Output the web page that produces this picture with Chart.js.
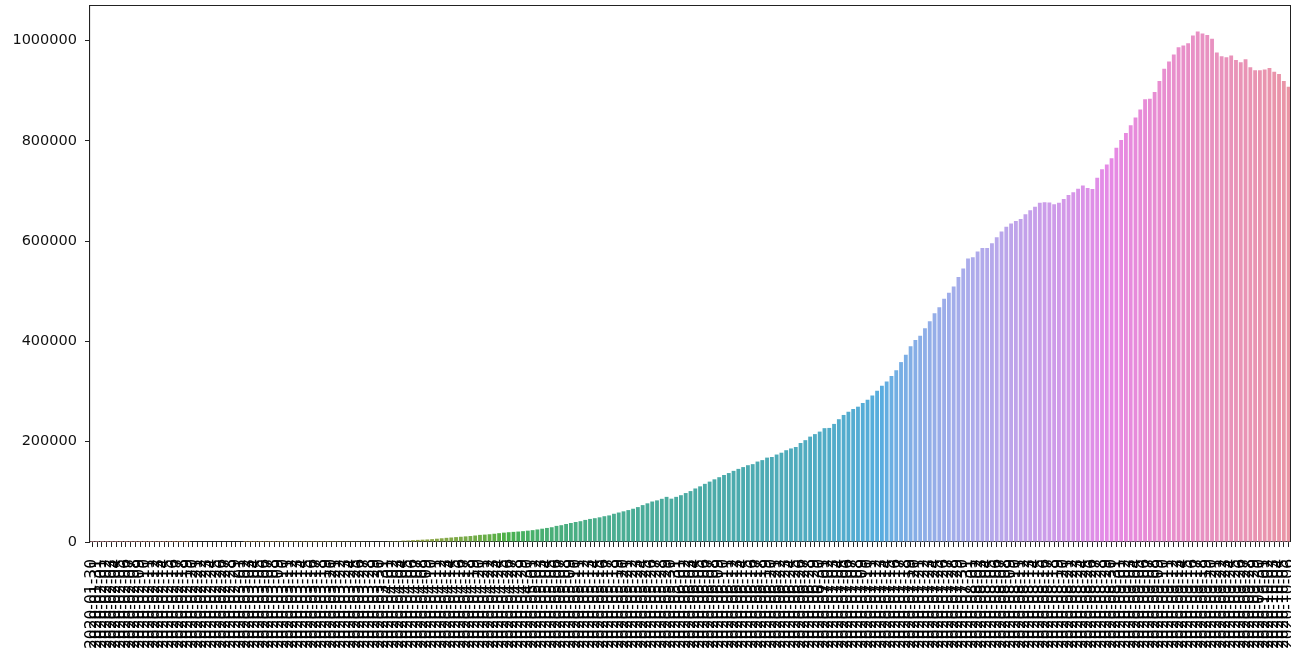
<!DOCTYPE html>
<html>
<head>
<meta charset="utf-8">
<script src="https://cdn.jsdelivr.net/npm/chart.js@4"></script>
<style>
  html, body { margin: 0; padding: 0; background: #fff; overflow: hidden; }
  canvas { display: block; }
</style>
</head>
<body>
<canvas id="active-bar" width="1291" height="649"></canvas>
<script>
// active cases per day, 2020-01-30 .. 2020-10-06
const startDate = '2020-01-30'
const dayCount = 251

const valuesJan = [1, 1]
const valuesFeb = [1, 2, 3, 3, 3, 3, 3, 3, 3, 3, 3, 3, 3, 3, 3, 3, 3, 3, 3, 0, 0, 0, 0, 0, 0, 0, 0, 0, 0]
const valuesMar = [0, 2, 3, 25, 27, 28, 31, 36, 40, 53, 58, 66, 72, 83, 97, 104, 119, 137, 157, 196, 256, 324, 411, 467, 536, 606, 727, 826, 914, 1117, 1238]
const valuesApr = [1637, 1860, 2066, 2784, 3030, 3666, 4195, 4643, 5095, 5709, 6565, 7409, 8312, 8988, 9756, 10477, 11201, 11906, 12974, 14175, 14759, 15474, 16454, 17610, 18668, 19519, 20177, 20835, 21632, 22629]
const valuesMay = [23651, 25007, 26535, 28046, 29453, 32138, 33514, 35902, 37916, 39834, 41472, 44029, 46008, 47480, 49219, 51401, 53035, 56316, 58802, 61149, 63624, 66330, 69597, 73560, 77103, 80722, 83004, 86110, 89987, 86422, 89995]
const valuesJun = [93322, 97581, 101497, 106737, 110960, 115942, 120406, 124981, 129215, 133632, 137448, 141842, 145779, 149348, 153106, 155227, 160384, 163248, 168269, 169451, 174387, 178014, 183022, 186514, 189463, 197387, 203051, 210120, 215125, 220114]
const valuesJul = [226947, 227439, 235433, 244814, 253287, 259557, 264944, 269789, 276882, 283407, 292258, 301609, 311565, 319840, 331146, 342473, 358692, 373379, 390459, 402529, 411133, 426167, 440135, 456071, 467882, 485114, 496988, 509447, 528242, 545318, 565103]
const valuesAug = [567730, 579357, 586244, 586298, 595501, 607384, 619088, 628747, 634945, 639929, 643948, 653622, 661595, 668220, 676514, 677444, 676900, 673166, 676514, 684000, 692028, 697330, 704348, 710771, 706000, 704000, 725991, 743000, 752424, 765302, 785996]
const valuesSep = [801282, 815538, 831124, 846395, 862320, 882542, 883697, 897394, 919018, 943480, 958000, 972000, 986598, 990061, 994500, 1009976, 1017754, 1013964, 1010824, 1003299, 975861, 968377, 966382, 970116, 960969, 956402, 962640, 946636, 940441, 940705]
const valuesOct = [942217, 944996, 937625, 933000, 919023, 907883]

const yTickValues = [0, 200000, 400000, 600000, 800000, 1000000]

const activeCases = [].concat(valuesJan, valuesFeb, valuesMar, valuesApr, valuesMay, valuesJun, valuesJul, valuesAug, valuesSep, valuesOct)

// date labels, one per day
const labels = []
const d0 = new Date(startDate + 'T00:00:00Z')
for (let i = 0; i < dayCount; i++) {
  const d = new Date(d0.getTime() + i * 86400000)
  labels.push(d.toISOString().slice(0, 10))
}

// seaborn default palette for many categories: husl, then desaturated to .75
const M = [[3.2406, -1.5372, -0.4986], [-0.9689, 1.8758, 0.0415], [0.0557, -0.2040, 1.0570]]
const refU = 0.19784, refV = 0.46834, kappa = 903.2963, epsilon = 0.0088564

function getBounds(L) {
  const sub1 = Math.pow(L + 16, 3) / 1560896
  const sub2 = sub1 > epsilon ? sub1 : L / kappa
  const ret = []
  for (const [m1, m2, m3] of M) {
    for (const t of [0, 1]) {
      const top1 = (284517 * m1 - 94839 * m3) * sub2
      const top2 = (838422 * m3 + 769860 * m2 + 731718 * m1) * L * sub2 - 769860 * t * L
      const bottom = (632260 * m3 - 126452 * m2) * sub2 + 126452 * t
      ret.push([top1 / bottom, top2 / bottom])
    }
  }
  return ret
}
function maxChroma(L, H) {
  const hrad = H / 180 * Math.PI
  let res = Infinity
  for (const [m1, b1] of getBounds(L)) {
    const len = b1 / (Math.sin(hrad) - m1 * Math.cos(hrad))
    if (len > 0) res = Math.min(res, len)
  }
  return res
}
function fromLinear(c) { return c <= 0.0031308 ? 12.92 * c : 1.055 * Math.pow(c, 1 / 2.4) - 0.055 }
function huslToRgb(H, S, L) {
  const C = maxChroma(L, H) / 100 * S
  const hrad = H / 180 * Math.PI
  const U = Math.cos(hrad) * C, V = Math.sin(hrad) * C
  const Y = L > 8 ? Math.pow((L + 16) / 116, 3) : L / kappa
  const varU = U / (13 * L) + refU
  const varV = V / (13 * L) + refV
  const X = 0 - (9 * Y * varU) / ((varU - 4) * varV - varU * varV)
  const Z = (9 * Y - 15 * varV * Y - varV * X) / (3 * varV)
  return M.map(r => Math.min(1, Math.max(0, fromLinear(r[0] * X + r[1] * Y + r[2] * Z))))
}
function rgbToHls(r, g, b) {
  const mx = Math.max(r, g, b), mn = Math.min(r, g, b)
  const l = (mx + mn) / 2
  if (mx === mn) return [0, l, 0]
  const d = mx - mn
  const s = l <= 0.5 ? d / (mx + mn) : d / (2 - mx - mn)
  const rc = (mx - r) / d, gc = (mx - g) / d, bc = (mx - b) / d
  let h
  if (r === mx) h = bc - gc
  else if (g === mx) h = 2 + rc - bc
  else h = 4 + gc - rc
  h = ((h / 6) % 1 + 1) % 1
  return [h, l, s]
}
function hv(m1, m2, h) {
  h = ((h % 1) + 1) % 1
  if (h < 1 / 6) return m1 + (m2 - m1) * h * 6
  if (h < 0.5) return m2
  if (h < 2 / 3) return m1 + (m2 - m1) * (2 / 3 - h) * 6
  return m1
}
function hlsToRgb(h, l, s) {
  if (s === 0) return [l, l, l]
  const m2 = l <= 0.5 ? l * (1 + s) : l + s - l * s
  const m1 = 2 * l - m2
  return [hv(m1, m2, h + 1 / 3), hv(m1, m2, h), hv(m1, m2, h - 1 / 3)]
}
const colors = labels.map((_, i) => {
  const hue = ((i / labels.length + 0.01) % 1) * 359
  const [r, g, b] = huslToRgb(hue, 0.9 * 99, 0.7 * 99)
  const [h, l, s] = rgbToHls(r, g, b)
  const [r2, g2, b2] = hlsToRgb(h, l, s * 0.75)
  return 'rgb(' + Math.round(r2 * 255) + ',' + Math.round(g2 * 255) + ',' + Math.round(b2 * 255) + ')'
})

Chart.defaults.font.family = 'DejaVu Sans, sans-serif'
Chart.defaults.font.size = 14.5
Chart.defaults.color = '#111'

// box round the plot, like the matplotlib spines
const frame = {
  id: 'frame',
  afterDraw(chart) {
    const a = chart.chartArea, ctx = chart.ctx
    ctx.save()
    ctx.fillStyle = '#222'
    ctx.fillRect(a.left - 1, a.top - 1, a.right - a.left + 1, 1)
    ctx.fillRect(a.right - 1, a.top - 1, 1, a.bottom - a.top + 1)
    ctx.restore()
  }
}

const ctxBAR = document.getElementById('active-bar')
const chart = new Chart(ctxBAR, {
  type: 'bar',
  data: {
    labels: labels,
    datasets: [{
      data: activeCases,
      backgroundColor: colors,
      borderWidth: 0,
      barPercentage: 0.8,
      categoryPercentage: 1.0
    }]
  },
  options: {
    responsive: false,
    animation: false,
    devicePixelRatio: 1,
    layout: { padding: { left: 0, right: 0, top: 6, bottom: 0 } },
    plugins: { legend: { display: false }, tooltip: { enabled: false } },
    scales: {
      x: {
        offset: true,
        grid: { display: true, drawOnChartArea: false, drawTicks: true, tickLength: 5, color: '#222', lineWidth: 1, offset: false },
        border: { display: true, color: '#222', width: 1.1 },
        ticks: { autoSkip: false, maxRotation: 90, minRotation: 90, padding: 12, color: '#000', font: { size: 15.5 } },
        afterFit: (s) => { s.height = 107; s.paddingLeft = 0; s.paddingRight = 0 }
      },
      y: {
        min: 0,
        max: 1068642,
        grid: { display: true, drawOnChartArea: false, drawTicks: true, tickLength: 5, color: '#222', lineWidth: 1 },
        border: { display: true, color: '#222', width: 1.1 },
        ticks: { padding: 8, callback: (v) => String(v) },
        afterBuildTicks: (s) => { s.ticks = yTickValues.map(v => ({ value: v })) },
        afterFit: (s) => { s.width = 90; s.paddingTop = 0; s.paddingBottom = 0 }
      }
    }
  },
  plugins: [frame]
})
</script>
</body>
</html>
